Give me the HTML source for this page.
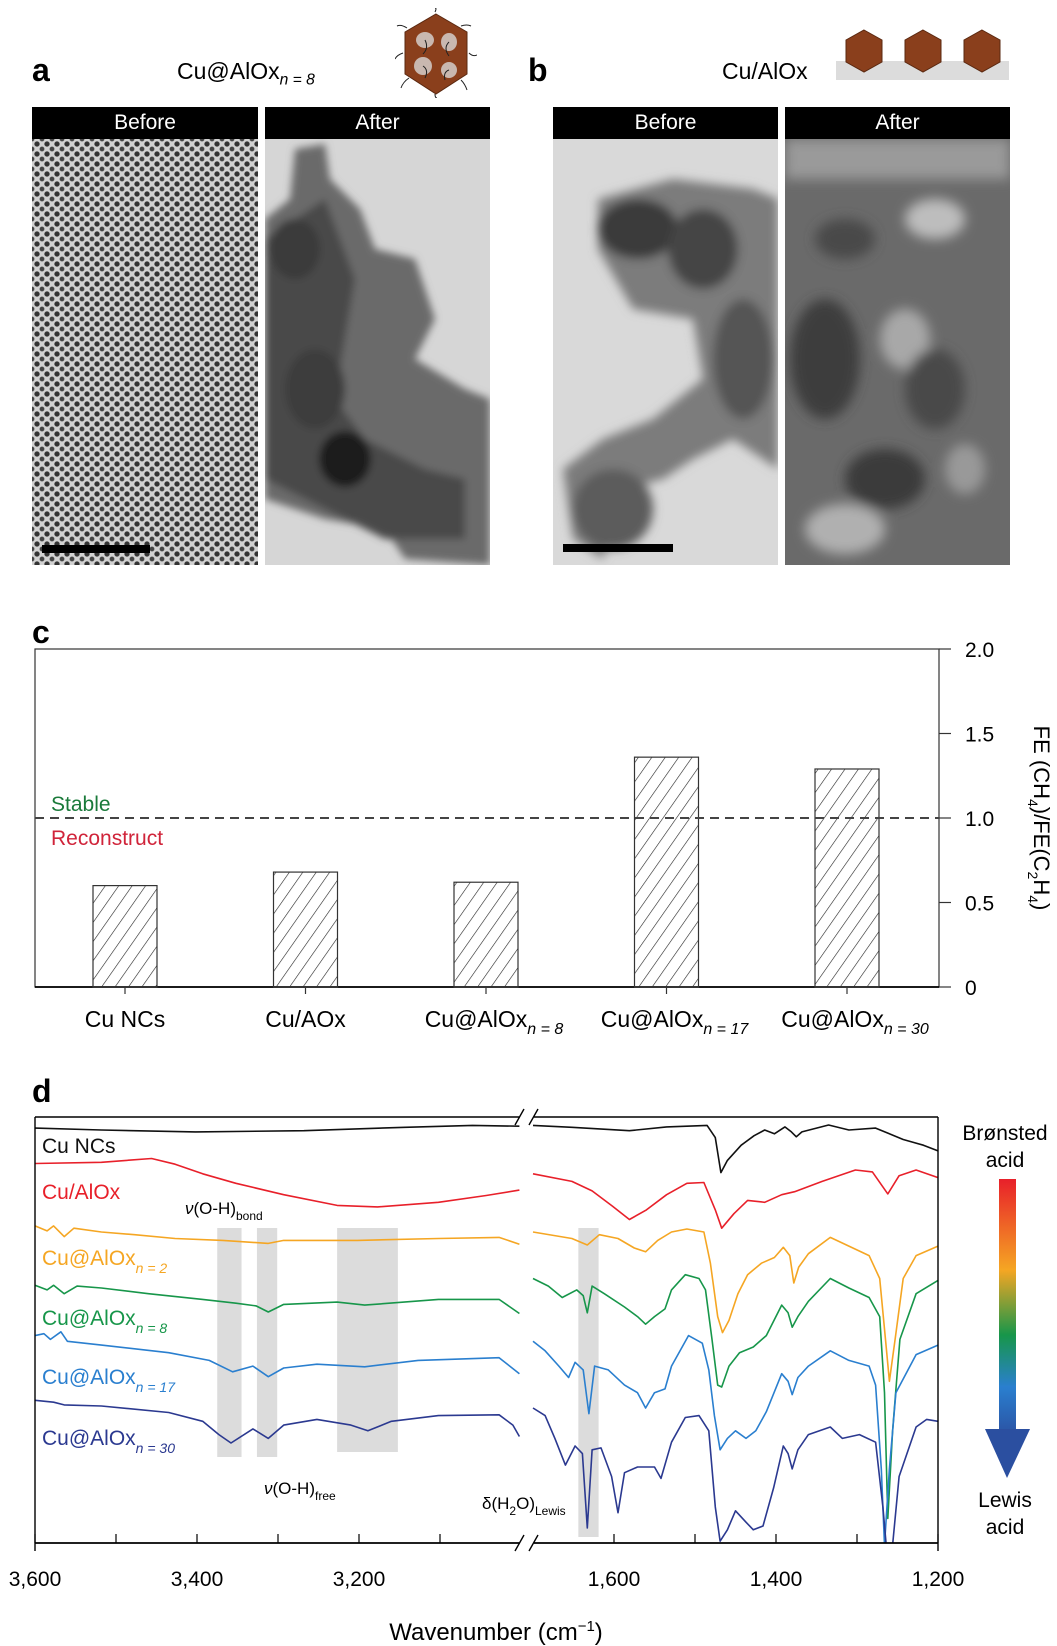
<!DOCTYPE html>
<html><head><meta charset="utf-8">
<style>
html,body{margin:0;padding:0;background:#fff;}
body{width:1057px;height:1646px;position:relative;overflow:hidden;font-family:"Liberation Sans",sans-serif;}
.abs{position:absolute;}
.hdr{position:absolute;height:32px;background:#000;color:#fff;font-size:21px;text-align:center;line-height:32px;}
.tem{position:absolute;overflow:hidden;}
.plabel{position:absolute;font-weight:bold;font-size:32px;line-height:32px;}
.ttl{position:absolute;font-size:23px;line-height:26px;}
sub{font-size:0.68em;font-style:italic;vertical-align:-0.35em;}
</style></head>
<body>
<!-- panel a -->
<div class="plabel" style="left:32px;top:54px">a</div>
<div class="ttl" style="left:177px;top:58px">Cu@AlOx<sub>n = 8</sub></div>
<svg class="abs" style="left:395px;top:8px" width="82" height="90">
 <g stroke="#222" stroke-width="1" fill="none">
  <path d="M12 20 q-6 -4 -10 -2 M8 45 q-6 2 -8 6 M14 70 q-6 4 -8 10 M40 4 q2 -4 0 -4 M66 18 q6 -2 10 0 M74 45 q4 4 8 2 M66 72 q4 4 6 10 M40 86 q0 4 2 4"/>
 </g>
 <polygon points="41,6 72,24 72,66 41,86 10,66 10,24" fill="#8a3f1c" stroke="#5a2810"/>
 <ellipse cx="30" cy="32" rx="9" ry="8" fill="#c9b8b0"/><ellipse cx="54" cy="34" rx="8" ry="9" fill="#c9b8b0"/>
 <ellipse cx="28" cy="58" rx="9" ry="9" fill="#c9b8b0"/><ellipse cx="54" cy="62" rx="8" ry="8" fill="#c9b8b0"/>
 <g stroke="#222" stroke-width="1" fill="none"><path d="M30 32 q4 8 -2 14 M54 34 q-6 6 0 14 M28 58 q6 4 2 12 M54 62 q-6 2 -4 10"/></g>
</svg>
<div class="hdr" style="left:32px;top:107px;width:226px">Before</div>
<div class="hdr" style="left:265px;top:107px;width:225px">After</div>
<div class="tem" style="left:32px;top:139px;width:226px;height:426px;background:radial-gradient(circle,#333 2.2px,rgba(0,0,0,0) 3px) 0 0/10px 10px,radial-gradient(circle,#444 2px,rgba(0,0,0,0) 2.8px) 5px 5px/10px 10px,#d2d2d2">
 <div class="abs" style="left:10px;top:406px;width:108px;height:8px;background:#000"></div>
</div>
<div class="tem" style="left:265px;top:139px;width:225px;height:426px;background:#d6d6d6">
 <svg width="225" height="426"><defs><filter id="bl"><feGaussianBlur stdDeviation="4"/></filter></defs>
  <g filter="url(#bl)">
  <path d="M30 10 L60 5 L65 40 L95 70 L110 110 L150 120 L170 180 L150 220 L200 250 L225 260 L225 426 L140 420 L120 390 L60 380 L0 360 L0 80 L25 60 Z" fill="#6a6a6a"/>
  <path d="M0 100 L60 60 L90 140 L70 260 L100 300 L160 330 L200 340 L200 400 L120 400 L40 360 L0 340 Z" fill="#4a4a4a"/>
  <ellipse cx="80" cy="320" rx="26" ry="28" fill="#1e1e1e"/>
  <ellipse cx="30" cy="110" rx="25" ry="30" fill="#3a3a3a"/>
  <ellipse cx="50" cy="250" rx="30" ry="40" fill="#3c3c3c"/>
  </g></svg>
</div>
<!-- panel b -->
<div class="plabel" style="left:528px;top:54px">b</div>
<div class="ttl" style="left:722px;top:58px">Cu/AlOx</div>
<svg class="abs" style="left:836px;top:28px" width="175" height="55">
 <rect x="0" y="33" width="173" height="19" fill="#dcdcdc"/>
 <g fill="#8a3f1c" stroke="#5a2810">
  <polygon points="28,2 46,12 46,34 28,44 10,34 10,12"/>
  <polygon points="87,2 105,12 105,34 87,44 69,34 69,12"/>
  <polygon points="146,2 164,12 164,34 146,44 128,34 128,12"/>
 </g>
</svg>
<div class="hdr" style="left:553px;top:107px;width:225px">Before</div>
<div class="hdr" style="left:785px;top:107px;width:225px">After</div>
<div class="tem" style="left:553px;top:139px;width:225px;height:426px;background:#d9d9d9">
 <svg width="225" height="426"><defs><filter id="bl2"><feGaussianBlur stdDeviation="5"/></filter></defs>
  <g filter="url(#bl2)">
  <path d="M45 60 L120 40 L200 50 L225 60 L225 330 L180 300 L140 320 L110 340 L70 350 L50 420 L20 400 L10 330 L50 300 L100 280 L150 240 L140 180 L80 170 L45 110 Z" fill="#7c7c7c"/>
  <ellipse cx="85" cy="90" rx="40" ry="30" fill="#3a3a3a"/>
  <ellipse cx="150" cy="110" rx="35" ry="40" fill="#444"/>
  <ellipse cx="190" cy="220" rx="30" ry="60" fill="#555"/>
  <ellipse cx="60" cy="370" rx="40" ry="40" fill="#5c5c5c"/>
  </g>
  <rect x="10" y="405" width="110" height="8" fill="#000"/>
 </svg>
</div>
<div class="tem" style="left:785px;top:139px;width:225px;height:426px;background:#6a6a6a">
 <svg width="225" height="426"><defs><filter id="bl3"><feGaussianBlur stdDeviation="6"/></filter></defs>
  <g filter="url(#bl3)">
  <rect x="0" y="0" width="225" height="40" fill="#9a9a9a"/>
  <ellipse cx="150" cy="80" rx="30" ry="20" fill="#bdbdbd"/>
  <ellipse cx="120" cy="200" rx="25" ry="30" fill="#a8a8a8"/>
  <ellipse cx="60" cy="390" rx="40" ry="25" fill="#b0b0b0"/>
  <ellipse cx="180" cy="330" rx="20" ry="25" fill="#999"/>
  <ellipse cx="40" cy="220" rx="35" ry="60" fill="#3e3e3e"/>
  <ellipse cx="150" cy="250" rx="30" ry="40" fill="#4a4a4a"/>
  <ellipse cx="100" cy="340" rx="40" ry="30" fill="#3a3a3a"/>
  <ellipse cx="60" cy="100" rx="30" ry="20" fill="#4a4a4a"/>
  </g></svg>
</div>

<svg id="charts" class="abs" style="left:0;top:0" width="1057" height="1646"></svg>

<script>
// ---------- panel c data ----------
const barCategories = ["Cu NCs","Cu/AOx","Cu@AlOx","Cu@AlOx","Cu@AlOx"];
const barCategorySubs = ["","","n = 8","n = 17","n = 30"];
const barValues = [0.60, 0.68, 0.62, 1.36, 1.29];
const cTicks = [0, 0.5, 1.0, 1.5, 2.0];
const cTickLabels = ["0","0.5","1.0","1.5","2.0"];
const thresholdValue = 1.0;

// ---------- panel d data ----------
const seriesNames = ["Cu NCs","Cu/AlOx","Cu@AlOx","Cu@AlOx","Cu@AlOx","Cu@AlOx"];
const seriesSubs = ["","","n = 2","n = 8","n = 17","n = 30"];
const seriesColors = ["#111111","#e8202a","#f5a623","#17964a","#2a7fcf","#2b3990"];
const wnBlack = [3600,3518,3402,3268,3143,3060,3002,1700,1652,1581,1535,1485,1475,1468,1460,1443,1427,1414,1402,1389,1381,1375,1368,1335,1310,1277,1243,1218,1200];
const aBlack = [2.05,2.10,2.15,2.12,2.03,1.98,2.00,1.98,2.03,2.12,2.02,1.98,2.30,3.22,2.90,2.50,2.25,2.10,2.20,2.02,2.15,2.28,2.15,1.97,2.10,2.05,2.35,2.50,2.65];
const wnRed = [3600,3518,3456,3427,3393,3352,3293,3227,3177,3102,3043,3002,1700,1652,1627,1602,1581,1560,1535,1510,1489,1475,1467,1452,1435,1414,1393,1377,1343,1302,1281,1262,1248,1227,1200];
const aRed = [2.98,2.95,2.85,3.00,3.25,3.50,3.80,4.08,4.12,4.00,3.82,3.68,3.25,3.45,3.70,4.10,4.45,4.20,3.80,3.50,3.48,4.20,4.68,4.30,3.95,4.00,3.80,3.72,3.45,3.15,3.20,3.78,3.30,3.15,3.35];
const wnOrange = [3600,3585,3577,3564,3552,3518,3477,3427,3368,3312,3293,3202,3102,3027,3002,1700,1652,1633,1618,1595,1575,1561,1546,1529,1510,1489,1481,1472,1466,1458,1447,1435,1418,1402,1391,1383,1378,1372,1360,1333,1310,1285,1272,1264,1260,1253,1243,1227,1200];
const aOrange = [4.62,4.75,4.62,4.90,4.68,4.78,4.85,4.95,5.00,5.08,5.00,5.00,4.95,4.92,5.10,4.78,4.95,5.12,4.85,4.95,5.20,5.30,5.00,4.78,4.70,4.78,5.60,7.00,7.42,7.10,6.40,5.90,5.60,5.45,5.18,5.40,6.12,5.70,5.35,4.92,5.15,5.40,6.00,7.80,8.70,7.60,6.00,5.40,5.15];
const wnGreen = [3600,3585,3577,3564,3548,3518,3460,3393,3352,3327,3312,3293,3227,3193,3102,3027,3002,1700,1681,1664,1646,1638,1633,1627,1612,1587,1571,1561,1550,1537,1529,1512,1495,1487,1479,1472,1467,1458,1445,1428,1412,1393,1385,1380,1373,1360,1333,1310,1285,1272,1266,1262,1256,1247,1227,1200];
const aGreen = [6.18,6.30,6.18,6.40,6.20,6.25,6.40,6.55,6.65,6.72,6.88,6.68,6.62,6.70,6.55,6.55,6.92,6.00,6.20,6.50,6.30,6.45,6.90,6.20,6.40,6.75,7.00,7.20,7.00,6.80,6.30,5.90,6.00,6.30,7.60,8.80,8.85,8.30,7.95,7.80,7.50,6.70,6.90,7.28,7.00,6.60,6.00,6.25,6.50,7.00,9.00,12.30,10.00,7.60,6.40,6.05];
const wnBlue = [3600,3589,3581,3568,3560,3518,3435,3385,3356,3331,3312,3293,3252,3193,3127,3027,3002,1700,1685,1668,1656,1648,1638,1631,1624,1607,1587,1571,1561,1550,1537,1529,1508,1491,1483,1476,1469,1460,1450,1437,1425,1412,1393,1385,1380,1373,1360,1333,1310,1285,1277,1270,1266,1260,1252,1227,1200];
const aBlue = [7.50,7.45,7.60,7.40,7.65,7.75,7.95,8.15,8.45,8.30,8.58,8.35,8.25,8.32,8.15,8.08,8.50,7.65,7.90,8.30,8.60,8.20,8.40,9.55,8.30,8.40,8.80,9.00,9.40,9.00,8.90,8.30,7.50,7.70,8.40,9.60,10.50,10.20,10.00,10.20,10.00,9.50,8.50,8.70,9.05,8.60,8.30,7.90,8.15,8.30,8.80,11.00,13.00,11.00,9.00,8.00,7.75];
const wnNavy = [3600,3577,3564,3518,3435,3393,3373,3358,3331,3312,3293,3252,3210,3189,3160,3102,3027,3010,3002,1700,1685,1673,1660,1648,1639,1633,1627,1616,1603,1595,1587,1571,1550,1542,1529,1512,1495,1483,1475,1469,1460,1450,1437,1428,1416,1403,1391,1385,1380,1373,1360,1333,1318,1297,1277,1268,1264,1256,1248,1227,1214,1200];
const aNavy = [9.20,9.25,9.32,9.35,9.52,9.75,10.10,10.32,9.95,10.20,9.85,9.70,9.85,10.00,9.75,9.60,9.58,9.85,10.15,9.40,9.60,10.20,10.90,10.40,10.60,12.55,10.50,10.45,11.20,12.15,11.10,10.95,10.95,11.25,10.30,9.65,9.60,10.00,12.00,12.90,12.60,12.10,12.40,12.60,12.50,11.50,10.40,10.60,11.00,10.50,10.10,9.90,10.20,10.10,10.30,12.00,13.00,13.00,11.20,9.90,9.70,9.75];
const dTickValues = [3600,3400,3200,1600,1400,1200];
const dTickLabels = ["3,600","3,400","3,200","1,600","1,400","1,200"];
const dMinorTicks = [3500,3300,3100,1500,1300];
const bandRanges = [[3375,3345],[3326,3301],[3227,3152],[1644,1619]];

const NS = "http://www.w3.org/2000/svg";
const svg = document.getElementById('charts');
function mk(tag, attrs, parent){ const e=document.createElementNS(NS,tag); for(const k in attrs) e.setAttribute(k,attrs[k]); (parent||svg).appendChild(e); return e; }
function txt(x,y,s,attrs,parent){ const t=mk('text',Object.assign({x:x,y:y,'font-family':'Liberation Sans, sans-serif'},attrs),parent); t.textContent=s; return t; }

// ---------- panel c ----------
const cL=35, cR=939, cT=649, cB=987;
const cy = v => cB - v/2.0*(cB-cT);
const cx = i => 125 + i*180.5;
const defs = mk('defs',{});
const pat = mk('pattern',{id:'hatch',width:11,height:11,patternUnits:'userSpaceOnUse',patternTransform:'rotate(35)'},defs);
mk('line',{x1:0,y1:0,x2:0,y2:11,stroke:'#222','stroke-width':1.2},pat);

const lblC = txt(32,643,'c',{'font-size':32,'font-weight':'bold'});
 
const boxC = mk('rect',{x:cL,y:cT,width:cR-cL,height:cB-cT,fill:'none',stroke:'#333','stroke-width':1.2});
 
mk('line',{x1:cL,y1:cB,x2:cR,y2:cB,stroke:'#000','stroke-width':1.8});
cTicks.forEach((v,i)=>{
  const tk = mk('line',{x1:cR,y1:cy(v),x2:cR+12,y2:cy(v),stroke:'#333','stroke-width':1.2});
   
  const tl = txt(cR+26,cy(v)+8,cTickLabels[i],{'font-size':21});
   
});
barValues.forEach((v,i)=>{
  const r = mk('rect',{x:cx(i)-32,y:cy(v),width:64,height:cB-cy(v),fill:'url(#hatch)',stroke:'#333','stroke-width':1.2});
   
  mk('line',{x1:cx(i),y1:cB,x2:cx(i),y2:cB+7,stroke:'#333','stroke-width':1.2});
  const t = mk('text',{x:cx(i)+(barCategorySubs[i]?8:0),y:1027,'font-size':23,'text-anchor':'middle','font-family':'Liberation Sans, sans-serif'});
  t.textContent = barCategories[i];
  if(barCategorySubs[i]){
    const s = mk('tspan',{'font-size':16,'font-style':'italic',dy:7},t);
    s.textContent = barCategorySubs[i];
  }
   
});
const dash = mk('line',{x1:cL,y1:cy(thresholdValue),x2:cR,y2:cy(thresholdValue),stroke:'#444','stroke-width':2,'stroke-dasharray':'9,6'});
 
const st = txt(51,811,'Stable',{'font-size':21,fill:'#1a7a3a'});
 
const rc = txt(51,845,'Reconstruct',{'font-size':21,fill:'#d0243a'});
 
const yt = mk('text',{transform:'translate(1034,818) rotate(90)','text-anchor':'middle','font-size':22,'font-family':'Liberation Sans, sans-serif'});
yt.innerHTML = 'FE (CH<tspan font-size="14" dy="6">4</tspan><tspan dy="-6">)/FE(C</tspan><tspan font-size="14" dy="6">2</tspan><tspan dy="-6">H</tspan><tspan font-size="14" dy="6">4</tspan><tspan dy="-6">)</tspan>';
 

// ---------- panel d ----------
const dL=35, dR=938, dT=1117, dB=1543, brk1=520, brk2=534;
function dx(w){ return w>2000 ? dL+(3600-w)*0.81 : dR-(w-1200)*0.81; }
const dy = a => 1050 + a*38.08;
const lblD = txt(32,1102,'d',{'font-size':32,'font-weight':'bold'});
 
bandRanges.forEach((b,i)=>{
  const yb = i===3 ? 1537 : (i===2 ? 1452 : 1457);
  const r = mk('rect',{x:dx(b[0]),y:1228,width:dx(b[1])-dx(b[0]),height:yb-1228,fill:'#dcdcdc'});
   
});
const clip = mk('clipPath',{id:'dclip'},defs);
mk('rect',{x:dL,y:dT,width:dR-dL,height:dB-dT},clip);
const seriesWn=[wnBlack,wnRed,wnOrange,wnGreen,wnBlue,wnNavy];
const seriesA=[aBlack,aRed,aOrange,aGreen,aBlue,aNavy];
const labelY=[1153,1199,1265,1325,1384,1445];
seriesWn.forEach((wn,s)=>{
  let left='', right='';
  wn.forEach((w,i)=>{
    const p = dx(w).toFixed(1)+','+dy(seriesA[s][i]).toFixed(1)+' ';
    if(w>2000) left+=p; else right+=p;
  });
  const g = mk('g',{'clip-path':'url(#dclip)'});
   
  mk('polyline',{points:left,fill:'none',stroke:seriesColors[s],'stroke-width':1.6,'stroke-linejoin':'round'},g);
  mk('polyline',{points:right,fill:'none',stroke:seriesColors[s],'stroke-width':1.6,'stroke-linejoin':'round'},g);
  const t = txt(42,labelY[s],seriesNames[s],{'font-size':21,fill:seriesColors[s]});
  if(seriesSubs[s]){
    const sb = mk('tspan',{'font-size':14,'font-style':'italic',dy:8},t);
    sb.textContent = seriesSubs[s];
  }
   
});
// frame
const fr = mk('g',{stroke:'#000','stroke-width':1.4,fill:'none'});
 
mk('line',{x1:dL,y1:dT,x2:brk1,y2:dT},fr); mk('line',{x1:brk2,y1:dT,x2:dR,y2:dT},fr);
mk('line',{x1:dL,y1:dB,x2:brk1,y2:dB,'stroke-width':1.8},fr); mk('line',{x1:brk2,y1:dB,x2:dR,y2:dB,'stroke-width':1.8},fr);
mk('line',{x1:dL,y1:dT,x2:dL,y2:dB+8},fr); mk('line',{x1:dR,y1:dT,x2:dR,y2:dB+8},fr);
[[dT],[dB]].forEach(([yy])=>{
  mk('line',{x1:brk1-5,y1:yy+8,x2:brk1+4,y2:yy-8},fr);
  mk('line',{x1:brk2-5,y1:yy+8,x2:brk2+4,y2:yy-8},fr);
});
dTickValues.forEach((w,i)=>{
  mk('line',{x1:dx(w),y1:dB,x2:dx(w),y2:dB-9,stroke:'#000','stroke-width':1.2});
  const t = txt(dx(w),1586,dTickLabels[i],{'font-size':21,'text-anchor':'middle'});
   
});
dMinorTicks.forEach(w=>{ mk('line',{x1:dx(w),y1:dB,x2:dx(w),y2:dB-9,stroke:'#000','stroke-width':1.2}); });
const xt = mk('text',{x:496,y:1640,'text-anchor':'middle','font-size':24,'font-family':'Liberation Sans, sans-serif'});
xt.innerHTML = 'Wavenumber (cm<tspan font-size="15" dy="-9">−1</tspan><tspan dy="9">)</tspan>';
 
const a1 = mk('text',{x:185,y:1214,'font-size':17,'font-family':'Liberation Sans, sans-serif'});
a1.innerHTML='<tspan font-style="italic">ν</tspan>(O-H)<tspan font-size="12" dy="6">bond</tspan>';
 
const a2 = mk('text',{x:264,y:1494,'font-size':17,'font-family':'Liberation Sans, sans-serif'});
a2.innerHTML='<tspan font-style="italic">ν</tspan>(O-H)<tspan font-size="12" dy="6">free</tspan>';
 
const a3 = mk('text',{x:482,y:1509,'font-size':17,'font-family':'Liberation Sans, sans-serif'});
a3.innerHTML='δ(H<tspan font-size="12" dy="6">2</tspan><tspan dy="-6">O)</tspan><tspan font-size="12" dy="6">Lewis</tspan>';
 
// gradient arrow
const lg = mk('linearGradient',{id:'acid',x1:0,y1:0,x2:0,y2:1},defs);
[['0','#e8202a'],['0.35','#f5a623'],['0.6','#17964a'],['0.8','#2a7fcf'],['1','#2b4fa0']].forEach(s=>mk('stop',{offset:s[0],'stop-color':s[1]},lg));
const ar = mk('g',{});
 
mk('rect',{x:999,y:1179,width:17,height:260,fill:'url(#acid)'},ar);
mk('polygon',{points:'985,1429 1030,1429 1007,1478',fill:'#2b4fa0'},ar);
const b1 = txt(1005,1140,'Brønsted',{'font-size':21,'text-anchor':'middle'});
 
const b2 = txt(1005,1167,'acid',{'font-size':21,'text-anchor':'middle'});
 
const l1 = txt(1005,1507,'Lewis',{'font-size':21,'text-anchor':'middle'});
 
const l2 = txt(1005,1534,'acid',{'font-size':21,'text-anchor':'middle'});
 
</script>
</body></html>
